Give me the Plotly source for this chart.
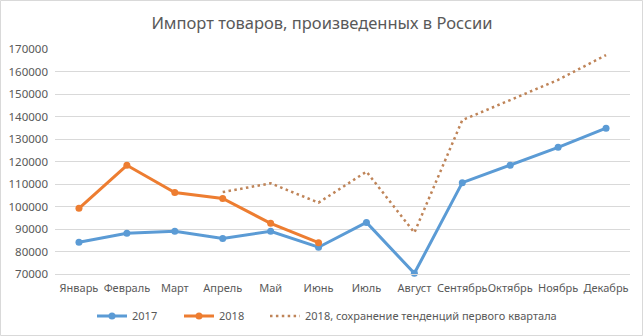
import plotly.graph_objects as go

months = ["Январь", "Февраль", "Март", "Апрель", "Май", "Июнь", "Июль",
          "Август", "Сентябрь", "Октябрь", "Ноябрь", "Декабрь"]
s2017 = [84100, 88100, 89000, 85800, 89000, 81900, 92900, 70300,
         110600, 118300, 126300, 134800]
s2018 = [99200, 118300, 106200, 103600, 92500, 83900,
         None, None, None, None, None, None]
s2018_trend = [None, None, None, 106400, 110300, 101700, 115500, 88400,
               138400, 147300, 156300, 167300]
yticks = [70000, 80000, 90000, 100000, 110000, 120000, 130000, 140000,
          150000, 160000, 170000]

W, H = 644, 336
L, R, T, B = 55, 14, 49, 62
pw, ph = W - L - R, H - T - B

FONT = "Noto Sans"
GRAY = "#595959"

fig = go.Figure()
fig.add_trace(go.Scatter(x=months, y=s2017, name="2017", mode="lines+markers",
                         line=dict(color="#5B9BD5", width=3),
                         marker=dict(size=7, color="#5B9BD5"),
                         legend="legend"))
fig.add_trace(go.Scatter(x=months, y=s2018, name="2018", mode="lines+markers",
                         line=dict(color="#ED7D31", width=3),
                         marker=dict(size=7, color="#ED7D31"),
                         legend="legend2"))
fig.add_trace(go.Scatter(x=months, y=s2018_trend,
                         name="2018, сохранение тенденций первого квартала",
                         mode="lines",
                         line=dict(color="#BF8458", width=2.5, dash="2.5px,3.4px"),
                         legend="legend3"))

leg_y = -(316 - (T + ph)) / ph
def leg(px):
    return dict(orientation="h", x=(px - L) / pw, xanchor="left",
                y=leg_y, yanchor="middle",
                font=dict(family=FONT, size=11, color=GRAY),
                bgcolor="rgba(0,0,0,0)")

fig.update_layout(
    width=W, height=H,
    margin=dict(l=L, r=R, t=T, b=B, autoexpand=False),
    paper_bgcolor="white", plot_bgcolor="white",
    font=dict(family=FONT, size=11, color=GRAY),
    title=dict(text="Импорт товаров, произведенных в России",
               x=0.5, xanchor="center", y=1 - 23 / H, yanchor="middle",
               font=dict(family=FONT, size=16.5, color=GRAY)),
    xaxis=dict(type="category", range=[-0.5, 11.5], showgrid=False,
               showline=True, linecolor="#D9D9D9", linewidth=1,
               ticks="", tickangle=0, ticklabelstandoff=4,
               tickfont=dict(size=11, color=GRAY), fixedrange=True),
    yaxis=dict(range=[70000, 170000], tickvals=yticks,
               ticktext=[str(v) for v in yticks],
               showgrid=True, gridcolor="#D9D9D9", gridwidth=1,
               zeroline=False, showline=False, ticks="",
               ticklabelstandoff=6,
               tickfont=dict(size=11.5, color=GRAY), fixedrange=True),
    showlegend=True,
    legend=leg(92), legend2=leg(179), legend3=leg(265),
)
fig.update_traces(cliponaxis=False)

fig.add_shape(type="rect", xref="paper", yref="paper",
              x0=(0.5 - L) / pw, x1=(W - 1.5 - L) / pw,
              y0=(T + ph - (H - 0.5)) / ph,
              y1=(T + ph - 0.5) / ph,
              line=dict(color="#D9D9D9", width=1), layer="below")

fig.write_html("out.html")
